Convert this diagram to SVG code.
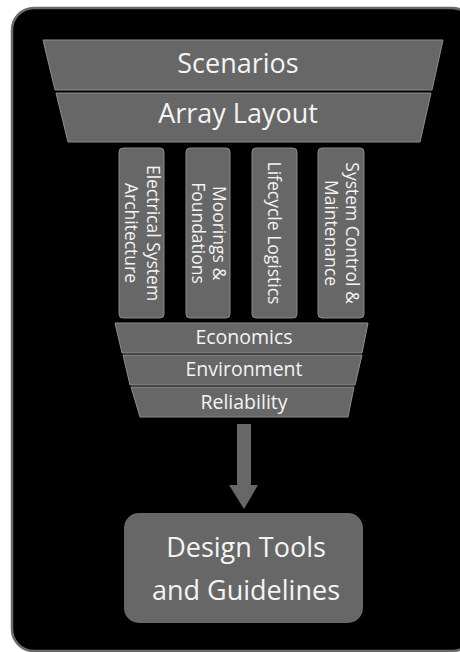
<svg xmlns="http://www.w3.org/2000/svg" width="460" height="652" viewBox="0 0 460 652">
<style>
.band{fill:#676767;stroke:#8e8e8e;stroke-width:1}
.col{fill:#676767;stroke:#8a8a8a;stroke-width:1}
.t{font-family:"Open Sans","Liberation Sans",sans-serif;fill:#f4f4f4;text-anchor:middle}
.big{font-size:27px}
.mid{font-size:19.5px}
.vt{font-size:17.5px}
</style>
<rect width="460" height="652" fill="#ffffff"/>
<rect x="12" y="8" width="462" height="643" rx="22" fill="#000000" stroke="#6b6b6b" stroke-width="2.5"/>
<g id="scenarios">
<polygon class="band" points="43,40 443,40 432,90 55,90"/>
<text class="t big" x="238" y="73">Scenarios</text>
</g>
<g id="array-layout">
<polygon class="band" points="56,93 431,93 420,142 68,142"/>
<text class="t big" x="238" y="123">Array Layout</text>
</g>
<g id="electrical">
<rect class="col" x="119" y="148" width="45" height="170" rx="4"/>
<g transform="translate(141.5,233) rotate(90)"><text class="t vt" x="0" y="-5">Electrical System</text><text class="t vt" x="0" y="16.5">Architecture</text></g>
</g>
<g id="moorings">
<rect class="col" x="186" y="148" width="44" height="170" rx="4"/>
<g transform="translate(208,233) rotate(90)"><text class="t vt" x="0" y="-5">Moorings &amp;</text><text class="t vt" x="0" y="16.5">Foundations</text></g>
</g>
<g id="lifecycle">
<rect class="col" x="252" y="148" width="45" height="170" rx="4"/>
<g transform="translate(274.5,233) rotate(90)"><text class="t vt" x="0" y="6.5">Lifecycle Logistics</text></g>
</g>
<g id="control">
<rect class="col" x="318" y="148" width="46" height="170" rx="4"/>
<g transform="translate(341,233) rotate(90)"><text class="t vt" x="0" y="-5">System Control &amp;</text><text class="t vt" x="0" y="16.5">Maintenance</text></g>
</g>
<g id="economics">
<polygon class="band" points="115,323 368,323 362,353 122,353"/>
<text class="t mid" x="244" y="344">Economics</text>
</g>
<g id="environment">
<polygon class="band" points="123,355 362,355 355,385 130,385"/>
<text class="t mid" x="244" y="376">Environment</text>
</g>
<g id="reliability">
<polygon class="band" points="131,387 354,387 348,417 140,417"/>
<text class="t mid" x="244" y="409">Reliability</text>
</g>
<g id="connectors">
<polygon points="237,424 251,424 251,485 258,485 244,509 229,485 237,485" fill="#676767"/>
</g>
<g id="design-tools">
<rect x="124" y="513" width="239" height="110" rx="15" fill="#676767"/>
<text class="t big" x="246" y="557">Design Tools</text>
<text class="t big" x="246" y="600">and Guidelines</text>
</g>
</svg>
